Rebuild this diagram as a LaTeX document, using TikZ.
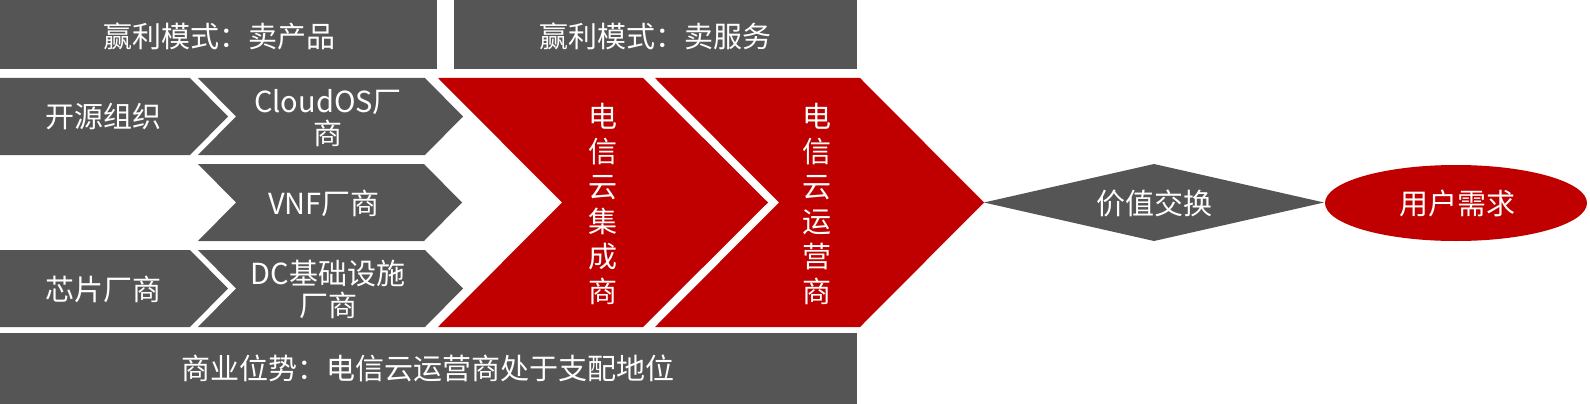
\documentclass[tikz,border=0pt]{standalone}
\usepackage{fontspec}
\setmainfont{Noto Sans CJK SC}
\definecolor{gr}{HTML}{555555}
\definecolor{rd}{HTML}{C00000}
\begin{document}
\begin{tikzpicture}[x=1pt,y=-1pt,
  txt/.style={text=white,font=\fontsize{29}{32}\selectfont,align=center,inner sep=0pt},
  vtxt/.style={text=white,font=\fontsize{29}{35}\selectfont,align=center,inner sep=0pt}]
\useasboundingbox (0,0) rectangle (1590,404);
% top bars
\fill[gr] (0,0) rectangle (437,69);
\node[txt] (top1) at (219,36) {赢利模式：卖产品};
\fill[gr] (454,0) rectangle (857,69);
\node[txt] (top2) at (655,36) {赢利模式：卖服务};
% row 1
\fill[gr] (0,78) -- (190,78) -- (228,116.5) -- (190,155) -- (0,155) -- cycle;
\node[txt] (kyzz) at (103,117) {开源组织};
\fill[gr] (198,78) -- (425,78) -- (463,116.5) -- (425,155) -- (198,155) -- (236,116.5) -- cycle;
\node[txt] (cos) at (328,118) {CloudOS厂\\商};
% row 2
\fill[gr] (198,164) -- (424,164) -- (462,202.5) -- (424,241) -- (198,241) -- (236,202.5) -- cycle;
\node[txt] (vnf) at (324,203) {VNF厂商};
% row 3
\fill[gr] (0,250) -- (190,250) -- (228,288.5) -- (190,327) -- (0,327) -- cycle;
\node[txt] (xp) at (103,289) {芯片厂商};
\fill[gr] (198,250) -- (425,250) -- (463,288.5) -- (425,327) -- (198,327) -- (236,288.5) -- cycle;
\node[txt] (dc) at (328,289) {DC基础设施\\厂商};
% red chevrons
\fill[rd] (438,78) -- (643,78) -- (768,202.5) -- (643,327) -- (438,327) -- (562,202.5) -- cycle;
\node[vtxt] (jc) at (603,204) {电\\信\\云\\集\\成\\商};
\fill[rd] (655,78) -- (860,78) -- (984,202.5) -- (860,327) -- (655,327) -- (779,202.5) -- cycle;
\node[vtxt] (yy) at (817,204) {电\\信\\云\\运\\营\\商};
% bottom bar
\fill[gr] (0,333) rectangle (857,404);
\node[txt] (bot) at (428,368) {商业位势：电信云运营商处于支配地位};
% diamond
\fill[gr] (984,202.5) -- (1154,164) -- (1324,202.5) -- (1154,241) -- cycle;
\node[txt] (jz) at (1154,203) {价值交换};
% ellipse
\fill[rd] (1456,203) ellipse [x radius=131, y radius=38];
\node[txt] (yh) at (1457,203) {用户需求};
\end{tikzpicture}
\end{document}
